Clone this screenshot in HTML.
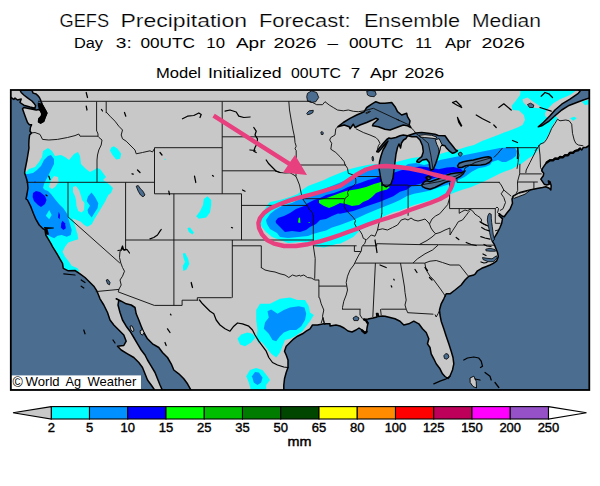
<!DOCTYPE html><html><head><meta charset="utf-8"><title>GEFS Precipitation Forecast</title>
<style>html,body{margin:0;padding:0;background:#fff}svg{display:block}text{font-family:"Liberation Sans",sans-serif;fill:#000}</style></head><body>
<svg width="600" height="486" viewBox="0 0 600 486">
<rect width="600" height="486" fill="#fff"/>
<defs><clipPath id="c"><rect x="10.5" y="90" width="579" height="300"/></clipPath></defs>
<g clip-path="url(#c)">
<rect x="10" y="89" width="581" height="302" fill="#c8c8c8"/>
<path d="M20 172 L26 172 L29 169 L35 167 L39 162 L42 157 L43 151 L48 148 L52 151 L55 156 L61 155 L65 157 L69 160 L74 154 L78 152 L80 156 L81 164 L86 169 L90 172 L94 170 L97 168 L100 169 L103 173 L106 177 L103 180 L106 182 L110 185 L113 188 L111 193 L108.3 195 L105 201.7 L100 210 L95 218.3 L91.7 224.2 L87.5 226.7 L84.2 225 L80.8 221.7 L76.7 220 L72.5 218.3 L74.2 223.3 L75.8 228.3 L77.5 234.2 L78.3 239.2 L73.3 240.8 L68.3 242.5 L65 246.7 L62.5 251.7 L65 256.7 L68.3 260.8 L71.7 265.8 L77.5 268.3 L79.2 270.8 L76.7 274 L60 274 L20 220Z" fill="#00ffff"/>
<path d="M111.2 147.5 L113.8 146.2 L117.5 148.8 L121.2 153.8 L120 158.8 L116.2 159.5 L112.5 155 L110 150.5Z" fill="#00ffff"/>
<path d="M203.8 199 L207.5 196.2 L211.2 200 L211.2 205 L210 212.5 L206.2 217.5 L198.8 218.8 L196.2 216.2 L200 211.2 L203 205Z" fill="#00ffff"/>
<path d="M187.5 228 L190 227.5 L193.8 232.5 L192.5 234.5 L188.8 232Z" fill="#00ffff"/>
<path d="M182.8 253.5 L185 253 L188 258.5 L189.3 264 L186.5 269.5 L183.3 271 L182.8 266 L185 262 L183.5 258Z" fill="#00ffff"/>
<path d="M164.5 158.8 L165.6 158.8 L165.6 159.8 L164.5 159.8Z" fill="#00ffff"/>
<path d="M256.2 310 L260 303.8 L270 303.8 L280 298.8 L290 297.5 L297.5 300 L305 300 L308.8 306.2 L310 312.5 L313.8 315 L310 321.2 L306.2 326.2 L302.5 331.2 L295 336.2 L290 338.8 L285 340 L282.5 346.2 L280 352.5 L276.2 357.5 L271.2 353.8 L266.2 347.5 L261.2 341.2 L258.8 343.8 L256.2 338.8 L257.5 330 L256.2 320Z" fill="#00ffff"/>
<path d="M237.5 338.8 L241.2 334.5 L247.5 332.5 L252.5 333.8 L255.5 337.5 L251.2 342.5 L245 346.2 L240 344.5Z" fill="#00ffff"/>
<path d="M246.2 376.2 L250 370 L256.2 368 L262.5 370 L267.5 376.2 L270 380 L266.2 385 L266.2 391 L251.2 391 L248.8 382.5Z" fill="#00ffff"/>
<path d="M262 214 L266 207 L270 202 L280 200 L290 197 L298 194 L302 190 L308 186 L316 183 L324 180 L330 177 L340 173 L350 169 L360 166.5 L370 164.4 L380 164 L396 162 L404 160 L412 158 L420 157 L430 155.5 L440 154 L450 151 L460 149 L466 147 L474 145 L482 141 L490 138 L498 135 L504 132.5 L511.2 130 L517.5 127.5 L522.5 125 L525 120 L523.8 115 L519 110.5 L512.5 110 L511.7 105.8 L515.8 100.8 L520 95 L520.8 89 L578.3 89 L570 95 L560 99.2 L553.3 103.3 L548.3 108.3 L545 113.3 L545.3 116.3 L547.5 117.7 L555 115 L557.5 118.3 L553.3 124.2 L550 131.7 L546.7 138.3 L541.7 144.2 L540 145 L538 150 L534 155 L529 158 L525 161 L521 164 L517 166 L512 169 L506 171 L500 173.5 L494 176.5 L488 179.5 L482 182.5 L476 185 L470 187.5 L463 189.5 L456 192 L449 194.8 L440 197.5 L430.3 200.3 L423.3 202.6 L414 205 L407 207.8 L400 210.5 L393.3 212.3 L380 218 L370 224 L360 230.3 L353.3 237 L348 239.7 L340 243.7 L337.5 243.8 L324 247.6 L316 246.4 L310 243 L300 242 L288 243 L280 240 L272 237 L266 232 L261 226 L259.5 220Z" fill="#00ffff"/>
<path d="M581.7 101.7 L588.3 99.7 L591 99.7 L591 104.2 L585 105Z" fill="#00ffff"/>
<path d="M570 118.3 L574.2 116.7 L576.7 118.3 L573.3 120.8Z" fill="#00ffff"/>
<path d="M54 176 L58 177 L58.6 182 L55 187 L52 189 L49 187 L50 183 L52 179Z" fill="#c8c8c8"/>
<path d="M73 187 L76 186 L79 190 L81 196 L82 200 L84.5 203 L84 210 L81.7 212.5 L78.3 211 L76.5 206 L76 200 L75 196 L73 192Z" fill="#c8c8c8"/>
<path d="M522.5 99.2 L527.5 97.5 L533.3 101.7 L538.3 105 L541.7 107.5 L538.3 108.3 L532.5 107.5 L526.7 105.8 L523.3 102.5Z" fill="#c8c8c8"/>
<path d="M20 174 L28 174 L33 173 L37 170 L41 166 L44 160 L48 156 L51 155 L54 159 L54 164 L52 168 L50 172 L48 176 L46 180 L44 184 L43 188 L45 190 L48 191 L51 194 L55 199.2 L59.2 204.2 L63.3 208.3 L66.7 213.3 L68.3 218.3 L70 224.2 L71.7 230 L70.8 235 L66.7 236.7 L61.7 235 L57.5 235.8 L54.2 238.3 L50.8 236.7 L47.5 235 L45.8 232.5 L40 232 L20 200Z" fill="#0090ff"/>
<path d="M91.5 192.5 L95 197 L98.3 203.3 L97.5 208.3 L94.2 213.3 L91.7 217.5 L88.3 213.3 L87.5 210 L90 205.8 L86.7 201 L88 196.5Z" fill="#0090ff"/>
<path d="M267.5 311.2 L271.2 309.5 L277.5 313.8 L283.8 310 L290 307.5 L298.8 306.2 L304.5 307.5 L306.2 313.8 L305 320 L301.2 326.2 L296.2 330 L290 330 L283.8 332.5 L280 336.2 L276.2 341.2 L272.5 340 L268.8 333.8 L263.8 328.8 L265 322.5 L268.8 317.5Z" fill="#0090ff"/>
<path d="M252 376.2 L255 372 L258.8 372.5 L262.5 377.5 L261.2 382.5 L257.5 385 L253.8 382.5Z" fill="#0090ff"/>
<path d="M266 220 L270 214 L275 210 L282 206 L292 203 L300 199 L308 197 L316 193 L324 189 L334 185 L344 181 L352 178 L360 174 L370 170 L380 166 L400 165 L404 167 L408 164 L416 163 L424 165 L432 163 L440 160 L450 158 L460 156 L470 154 L480 152 L490 150 L500 148 L508 147.6 L515 148 L517 151 L516 156 L512 159 L506 162 L502 162 L498 160 L492 162 L490 165 L485 167 L478.3 168.3 L471.7 171.7 L465 176.7 L458.3 180 L450 184 L446.7 185 L438.5 187.4 L430.3 190.5 L423.3 192 L414 193.8 L407 196 L400 200 L393.3 203 L380 208.3 L366.7 213.7 L353.3 220 L340 225 L332 227.5 L326 230.5 L320 232 L313 234 L308 236 L298 237 L288 238 L280 237 L277 233 L270 229 L267 224Z" fill="#0090ff"/>
<path d="M49.2 210 L51.7 215 L49.2 219.2 L45.8 215.8Z" fill="#00ffff"/>
<path d="M33 193 L36 191 L40 192 L45 196 L46.5 200 L45 204 L41 207 L38 205 L34 201 L32.6 197Z" fill="#0000ff"/>
<path d="M58.7 211.7 L60 215 L59.7 219.2 L58 217.5Z" fill="#0000ff"/>
<path d="M62.5 220.8 L65 223.3 L65.8 228.3 L63.3 230 L60.8 227.5 L61.3 223.3Z" fill="#0000ff"/>
<path d="M34.5 181.5 L35.5 181.5 L35.5 182.5 L34.5 182.5Z" fill="#0000ff"/>
<path d="M275.6 221 L278 218 L284 216 L290 213 L296 209 L304 206 L308 203 L314 200 L320 198 L326 195 L334 193 L342 190 L348 187 L354 185 L360 183 L368 180 L376 178 L381 175 L390 174 L396 172 L402 170 L408 169 L414 167.5 L420 166.5 L426 167 L432 168 L438.5 169.3 L446.7 167.6 L453.7 167 L460.7 168.8 L463 171 L460 172.4 L451.7 172.5 L443.3 175 L436.7 177.5 L428.3 180 L422 183.3 L417.5 184.5 L411.7 186 L406.7 189.7 L400 191.7 L393.3 196.3 L380 201.7 L366.7 206.3 L353.3 211 L346 212.5 L340 213.7 L338 213.5 L332 216 L326 219 L320 220 L316 224 L310 227 L306 230 L300 232 L292 231 L285 232 L280 227 L276 223Z" fill="#0000ff"/>
<path d="M319 200 L324 199 L332 196 L340 193 L346 191 L352 190 L358 189 L366 187 L374 184 L381 182 L381 186 L387 186 L390 187 L387 189.6 L381 191 L376 193 L372 197 L368 200 L363 202 L359 205 L352 206 L346 204 L340 203 L334 206 L329 208 L324 206 L319 203Z" fill="#00ff00"/>
<path d="M298.6 218 L300 217.6 L300.4 223 L298 222.4Z" fill="#00ff00"/>
<path d="M308.6 222 L309.6 222 L309.6 223 L308.6 223Z" fill="#00ff00"/>
<path d="M10 97.5 L10.9 97.5 L13.8 99.4 L15 98.1 L17.5 100 L21.2 99 L20 102.5 L23.8 105.2 L30 107 L35 108.2 L35.6 105.6 L34.4 103.8 L31.9 101 L27.5 97.8 L23.8 95 L21.2 92.5 L20 90.2 L31.9 90.2 L33.1 93.1 L36.2 94 L37.8 95.6 L39.4 97.5 L40.6 100 L41.2 101.9 L42.5 105 L45 110 L46.9 113.1 L45 117.5 L43.8 121.2 L40.6 123.1 L38.5 121.9 L38.8 118.8 L41.2 116.2 L41.9 113.8 L40.6 111.2 L39.4 109.4 L36.2 110 L30 108.8 L23.8 107.5 L22.5 108.8 L23.8 112.5 L25.6 117.5 L27.5 122.5 L29.4 124.8 L31.6 124.8 L30.4 127.5 L30 131.2 L31.5 132.9 L29.6 135 L29 140 L28.8 145 L29 148 L27 160 L25 170 L24.6 173 L26 177 L27.4 182 L28 188 L27 194 L26 199 L27.5 200 L30.8 206.7 L33.3 213.3 L35.8 219.2 L39.2 225 L42.5 228.3 L45 230 L45.8 235 L48.3 239.2 L50.8 243.3 L52.5 246.7 L56.7 253.3 L60 259.2 L62.5 263.3 L63.3 268.3 L68.3 270.8 L75 270.5 L80 273.8 L85 277.5 L88.8 281.2 L93.8 286.2 L97 291.2 L100 298.8 L103.8 305 L107.5 312.5 L110 320 L113.8 325 L118.8 330 L123.8 335 L126.2 341.2 L123.8 345.5 L117.5 346.2 L121.2 350 L127.5 353.8 L133.8 357.5 L138.8 362.5 L142.5 367.5 L145 373.8 L147.5 380 L151.2 385 L155 390.5 L10 390.5Z" fill="#4a6d90" stroke="#000" stroke-width="1.5" stroke-linejoin="round"/>
<path d="M162.5 390.5 L160 385 L157.5 378.8 L155 372.5 L151.2 366.2 L147.5 360 L145 355 L141.2 350 L137.5 343.8 L133.8 337.5 L130 331.2 L126.2 326.2 L122.5 320 L120 312.5 L118 305 L118.8 300 L116.2 298.8 L121.2 301.2 L126.2 303.8 L131.2 305 L135 307.5 L136.2 313.8 L138.8 320 L141.2 326.2 L143.8 332.5 L147.5 338.8 L152.5 343.8 L158.8 347.5 L162.5 352.5 L167.5 357.5 L171.2 363.8 L173.8 370 L178.8 373.8 L183.8 378.8 L187.5 383.8 L191.2 390.5Z" fill="#4a6d90" stroke="#000" stroke-width="1.5" stroke-linejoin="round"/>
<path d="M283.8 390.5 L283.8 385 L284.5 378.8 L286.2 372.5 L288 367.5 L288 360 L286.2 355 L284.5 351.2 L286.2 346.2 L290 342.5 L293.8 338.8 L297.5 336.2 L302.5 333.8 L306.2 331.2 L310 328.8 L312.5 325 L317.5 325 L323.8 323.8 L330 323.8 L330 326 L336 325 L340 326 L344 328 L348 331 L352 332 L356 330 L359 328 L362 330 L365 333 L366.5 332.5 L367 328 L368 323 L366 320 L364 319.3 L368 319 L373 318 L377 317 L376.5 313.5 L378 313.5 L378.5 316.5 L382 316 L385 316.2 L390 317.5 L395 318.8 L400 321.2 L403.8 325 L408.8 323.8 L413.8 321.2 L418.8 323.8 L422.5 328.8 L426.2 332.5 L428.8 338.8 L427.5 343.8 L430 347.5 L431.2 353.8 L433.8 358.8 L436.2 363.8 L440 368.8 L442.5 373.8 L445 376.5 L448 378.5 L450 376 L452.5 370 L453.8 363.8 L453 357.5 L451.2 351.2 L448.8 343.8 L446.2 336.2 L443.8 328.8 L441.2 321.2 L440 315 L439.5 310 L441.2 303.8 L443.8 298.8 L446.2 293.8 L450 293.8 L455 290 L461.2 285 L465 280 L468.8 276.2 L473.8 275 L475 274.2 L477.5 270.8 L481.7 268.3 L485.8 266.7 L490 265 L493.3 263.3 L496.7 260.8 L498.3 256.7 L497.5 252.5 L495.8 248.3 L494.2 244.2 L492.5 241.7 L493.3 239.2 L495 236.7 L497.5 232.5 L500 227.5 L501.7 223.3 L502.5 218.5 L501.5 218 L499 215.5 L499.5 213.8 L502 216 L504.2 216.7 L506.7 213.3 L510 209.2 L512.5 203.3 L512 199 L513.3 195.8 L520 192.5 L526.7 190.8 L533.3 189.2 L538.3 188.3 L542.5 187.5 L545.8 186.7 L549.2 188.3 L550.8 190 L551.2 185.8 L550 181.7 L548.3 180.8 L549.2 184.2 L546.7 185 L544.2 184.2 L542.5 181.7 L540.8 179.2 L543.3 175.8 L543.7 173.3 L541.7 170.8 L542.5 168.3 L544.2 165.8 L546.7 162.5 L550 160 L553 160 L555 158.3 L558 158.5 L560 156.7 L563 157 L565 155 L568 155 L570 152.5 L573 152.5 L575 150.8 L578 150 L580 148.3 L581.7 150 L583.3 147.5 L586 147.5 L590 145 L590 390.5Z" fill="#4a6d90" stroke="#000" stroke-width="1.5" stroke-linejoin="round"/>
<path d="M578.3 89.2 L590.8 89.2 L590.8 97.5 L583.3 100 L576.7 102.5 L568.3 105.8 L561.7 110 L555 115.8 L548.3 121.7 L541.7 125.8 L538.3 126.7 L543.3 122.5 L550 115.8 L555 110 L561.7 104.2 L570 99.2 L578.3 93.3 L580 91.3Z" fill="#4a6d90" stroke="#000" stroke-width="1.5" stroke-linejoin="round"/>
<path d="M338 126.7 L343.3 122.5 L350 118.3 L356.7 115 L364.2 111.7 L366.7 107.5 L371.7 104.2 L375.8 101.7 L380 103.3 L385 103.3 L391.7 102.5 L395 106.7 L397.5 111.7 L401.7 115 L406.7 113.3 L407.5 116.7 L410 120.8 L409.2 125 L410.8 127.5 L407.5 125.8 L403.3 125 L396.7 127.5 L390 130 L385 129.2 L378.3 126.7 L372.5 125.8 L373.3 123.7 L378.3 119.2 L375.8 118.3 L371.7 120.3 L366.7 122.5 L360 125 L355 127.5 L353.3 124.2 L350 128.7 L349.2 126.7 L344.2 125Z" fill="#4a6d90" stroke="#000" stroke-width="1.5" stroke-linejoin="round"/>
<path d="M407.5 135.8 L403.3 135 L400 135.8 L395.8 137.5 L391 138.5 L389 138 L386.7 139.5 L383.3 143.3 L379.2 148.3 L376.7 151.7 L378.5 152 L381.5 148.5 L385 144 L388 141 L385.5 146 L383 150 L381 156 L379.5 162 L379 168 L380 174 L381 180 L382.5 184.5 L386.5 187 L391 184 L393 178 L394 170 L395 162 L396 154 L397.5 147.5 L399 144 L400.5 148 L401.5 143 L403.5 140 L406 138.5Z" fill="#4a6d90" stroke="#000" stroke-width="1.5" stroke-linejoin="round"/>
<path d="M407.5 135.8 L415.8 133 L421.7 132.5 L428.3 133.3 L435 134.2 L438.3 135.5 L445 135.8 L449.2 141.7 L452.5 145.8 L455.8 150 L457.5 150.8 L455 152.5 L452.5 153.3 L449.2 150.8 L446.7 148.3 L445 145.8 L441.7 145 L440 146.7 L439.2 152.5 L437.5 158.3 L435.8 163.3 L433.3 169.2 L430.8 170 L430 168.3 L429.2 162.5 L426.7 159.2 L422.5 160 L419.2 162.5 L416.7 161.7 L417.5 160 L421.7 156.7 L423.3 151.7 L422.5 145.8 L420 140 L416.7 136.7 L412 136.8Z" fill="#4a6d90" stroke="#000" stroke-width="1.5" stroke-linejoin="round"/>
<path d="M421.7 185 L424.2 181.7 L426.7 180.8 L430 181.7 L435 180 L440 178.3 L445 175.8 L450.8 173.7 L455.8 173 L461.7 172.5 L465 170.8 L463.3 173.7 L460 176.7 L455 179.2 L450 180.8 L445 182.5 L440 185 L435 187.5 L430 189.2 L425.8 188.3 L422.5 186.7Z" fill="#4a6d90" stroke="#000" stroke-width="1.5" stroke-linejoin="round"/>
<path d="M457.5 165.8 L459.2 163.3 L463.3 161.7 L468.3 160.8 L473.3 160 L478.3 158.7 L483.3 157.5 L488.3 156.7 L490.8 157.5 L491.7 160 L489.2 162.5 L485.8 164.2 L480.8 165 L475.8 165.3 L470.8 165 L465.8 165.8 L461.7 167.5 L458.3 167.5Z" fill="#4a6d90" stroke="#000" stroke-width="1.5" stroke-linejoin="round"/>
<path d="M425.8 177.5 L428.3 176.3 L430.8 177.5 L430 179.2 L427.5 179.7Z" fill="#4a6d90" stroke="#000" stroke-width="1.5" stroke-linejoin="round"/>
<path d="M512.5 197 L518.3 193.5 L525 191.8 L530.5 190 L525 194.2 L518.3 196.7 L514.2 198.3Z" fill="#c8c8c8" stroke="#000" stroke-width="0.9" stroke-linejoin="round"/>
<path d="M419.2 135.3 L425 134.7 L431.7 135.3 L436.7 137 L435.8 138.7 L430 138 L424.2 137.5 L420 137Z" fill="#c8c8c8" stroke="#000" stroke-width="0.9" stroke-linejoin="round"/>
<path d="M435.3 139.7 L439.2 138.7 L442 144.7 L440.5 147 L439.5 152 L438.3 147.5 L436.7 144.2Z" fill="#c8c8c8" stroke="#000" stroke-width="0.9" stroke-linejoin="round"/>
<path d="M470 378 L473.8 376.2 L476.2 381.2 L476.5 388 L473 386.5 L470.2 382.5Z" fill="#c8c8c8" stroke="#000" stroke-width="0.9" stroke-linejoin="round"/>
<path d="M130 326.2 L132 325.8 L134 330 L133 331.8 L131 330Z" fill="#c8c8c8" stroke="#000" stroke-width="0.9" stroke-linejoin="round"/>
<path d="M140 330.8 L142.5 329.5 L144 332.5 L142.5 335.2 L140.5 333.8Z" fill="#c8c8c8" stroke="#000" stroke-width="0.9" stroke-linejoin="round"/>
<path d="M365.8 113 L370 111 L370.5 111.5 L366.7 113.5Z" fill="#c8c8c8" stroke="#000" stroke-width="0.9" stroke-linejoin="round"/>
<path d="M489.2 213.3 L487.8 216 L487.3 220 L488 224.2 L488.8 228.3 L489.6 232.5 L490.5 236.7 L492 241.5 L494.6 239.5 L493.3 235 L492.8 230.8 L492.3 226.7 L491.7 222.5 L491.3 218.3 L491.2 214.2Z" fill="#4a6d90" stroke="#000" stroke-width="0.8" stroke-linejoin="round"/>
<path d="M485.8 249.2 L490 248.3 L495 249.5 L495.5 251.2 L490 251.2 L486 250.8Z" fill="#4a6d90" stroke="#000" stroke-width="0.8" stroke-linejoin="round"/>
<path d="M482.5 257.5 L487 258.3 L492 258.8 L496.5 255.8 L497.3 257.8 L493.5 261.7 L488 261.7 L483 259.5Z" fill="#4a6d90" stroke="#000" stroke-width="0.8" stroke-linejoin="round"/>
<path d="M307.5 93.3 L311.7 90.8 L316.7 92.5 L318.7 97.5 L315.8 101.7 L311.7 102.5 L307.5 100.8 L306.7 96.7Z" fill="#4a6d90" stroke="#000" stroke-width="0.8" stroke-linejoin="round"/>
<path d="M366.7 91.3 L370 90.3 L375 91 L376.2 94.2 L374.2 96.7 L370 96.3 L367.5 95Z" fill="#4a6d90" stroke="#000" stroke-width="0.8" stroke-linejoin="round"/>
<path d="M306.7 113.3 L309.2 110.8 L313.3 110.3 L313 112.5 L310 114.2 L307.5 114.7Z" fill="#4a6d90" stroke="#000" stroke-width="0.8" stroke-linejoin="round"/>
<path d="M320.8 132.2 L322.2 131.5 L323.3 132.8 L323 134.5 L321.3 134.5Z" fill="#4a6d90" stroke="#000" stroke-width="0.8" stroke-linejoin="round"/>
<path d="M372 157 L373 156.3 L373.7 159.2 L373 161.2 L372.2 160Z" fill="#4a6d90" stroke="#000" stroke-width="0.8" stroke-linejoin="round"/>
<path d="M136.2 186.2 L138.2 185.5 L140.5 188.8 L143 191.2 L145 195 L143 196.8 L140.5 195 L138.2 191.2Z" fill="#4a6d90" stroke="#000" stroke-width="0.8" stroke-linejoin="round"/>
<path d="M443.8 355.8 L445.8 353.5 L448 354.2 L449 357 L447 359.2 L444.5 358.5Z" fill="#4a6d90" stroke="#000" stroke-width="0.8" stroke-linejoin="round"/>
<path d="M527.5 104.5 L530.5 103.2 L533.8 105 L533.2 107.5 L529.5 107.5Z" fill="#4a6d90" stroke="#000" stroke-width="0.8" stroke-linejoin="round"/>
<path d="M353 318 L356 316 L359 318 L358 320.6 L354 320.6Z" fill="#4a6d90" stroke="#000" stroke-width="0.8" stroke-linejoin="round"/>
<path d="M106.2 280 L108 279.5 L110 282.5 L109.5 284.8 L107.5 283.8Z" fill="#4a6d90" stroke="#000" stroke-width="0.8" stroke-linejoin="round"/>
<path d="M458.3 153.3 L460.8 152 L462.5 154.2 L460.3 156.3 L458.7 155.3Z" fill="#4a6d90" stroke="#000" stroke-width="0.8" stroke-linejoin="round"/>
<path d="M38 101.3 L300 101.3 L311 101.3 M96.6 101.5 L96.6 131.3 M106.2 101.5 L106.2 113.1 M26.4 182.3 L154.5 182.3 M68 182.3 L68 216.9 M68 216.9 L119.9 263.1 M125.6 182.3 L125.6 240 M154.5 147.7 L154.5 193.8 M154.5 147.7 L222.2 147.7 M154.5 193.8 L241.5 193.8 M222.2 101.5 L222.2 193.8 M173.9 193.8 L173.9 305.4 M125.6 240 L313.3 240 M241.5 193.8 L241.5 240 M222.2 136.8 L294.6 136.8 M222.2 170.8 L275.8 170.8 M241.5 205.4 L306.8 205.4 M232.3 240 L232.3 297.7 M232.3 245.8 L261.3 245.8 M261.3 245.8 L261.3 268.1 M231.7 297.7 L197.3 297.7 M197.3 297.7 L197.3 300.2 M198.2 300.2 L182.1 300.2 M182.1 300.2 L182.1 305.4 M182.1 305.4 L154.3 305.4 M154.3 305.4 L118.2 291.9 L119 289.4 L95.8 291.6 M125.6 240 L125.6 250.4 M295.7 165 L346.2 165 M302.2 198.7 L344.5 198.7 M313.3 215.8 L313.3 245.8 M313.3 245.8 L315.2 258.5 L314.7 278.8 M318.9 279.8 L318.9 297.8 M318.9 286.1 L346.7 286.1 M313.3 245.8 L356.6 245.8 M354.4 245.8 L354.4 251.5 L360.9 251.5 M355.1 263.1 L424.7 263.1 M375.4 263.1 L372.8 317.3 M400.5 263.1 L404.6 287.6 M381.2 309.2 L406.3 309.2 M342.2 309.2 L360.6 309.2 M407.7 312.7 L433.4 314.2 M351.8 176.5 L379.3 176.5 M381.9 185.8 L381.9 213.5 M381.9 185.1 L408.3 185.1 M408.3 185.8 L421.3 185.4 M408.1 185.8 L408.1 215.8 M449.6 182.5 L449.6 208.6 M449.6 208.6 L495.4 208.6 M457 182.3 L499.6 182.3 M457 182.3 L457 179.2 M362.8 245.8 L376.7 245.8 L376.7 243.7 L419.2 244.6 L438.4 244.7 L494.3 245.2 M505.9 147.7 L536.8 147.7 M519.9 163.8 L519.7 173.7 L517.5 181.7 L517.7 190.4 L516.1 193.8 M519.7 173.9 L541.7 173.9 M517.5 182 L537.8 182 M533.9 182 L533.9 189.8 M30 133.1 L35 132.5 L40 134.4 L42.5 139.4 L48.8 140 L57.5 139.4 L67.5 137.5 L75 135.6 L78.8 134 L80 136.2 L98 136.2 M97 131.3 L98 134 L98 136.2 L99 137.5 L102 140 L101.2 145 L98.8 150 L97.5 155 L97 160 L97 182.3 M106.2 112 L110 116.2 L115 121.2 L118.8 126.2 L122.5 130 L121.2 135 L122.5 138.8 L126.2 141.2 L130 145 L135 150 L136.2 153.8 L142.5 152.5 L150 150.8 L152.5 152 L154.5 148.5 M288.8 101.2 L289.5 110 L291.2 120 L293 130 L294.5 136.8 L295 142.5 L296.2 146.2 L295 148.8 L296.2 150.5 L296.2 165 L295.7 167.5 L296 172 L296 176.5 M275 170.8 L280 172.5 L285 173 L290 172.8 L294 175 L296 176.5 L297.5 180 L299.5 185 L300.5 190 L302 197 L304 201 L307 205 L309 209 L312 212 L313.3 216 M338 126.7 L335.8 128.7 L335 135 L330.8 137.5 L329.7 140 L331.7 143.3 L330.8 149.2 L335.8 152.5 L340 156.7 L344.2 161.7 L345 165 L346 166 L347.5 168.3 L348.3 173.3 L353.3 175 L355.8 179.2 L355.8 183.3 L353.3 185.8 L349.2 189.2 L347.5 192.5 L348.3 195.8 L345 198.3 L344.2 201.7 L344.2 206.7 L346.7 210.8 L350 214.2 L353.3 217.5 L355.5 220.5 L354.5 223.7 L356.7 227.7 L360 231 L362 234.3 L363.3 238.3 L366 239.7 L364.7 243.7 L362 246.3 L361.2 251.2 L358.8 255 L356.2 260 L353.8 265 L350 270 L347.5 276.2 L346.2 282.5 L347.5 290 L346.2 295 L343.8 301.2 L342.5 307.5 L342.5 309.3 M360 309.3 L360 315 L362.5 318.8 M366.5 239.8 L371.2 235 L375 236.2 L377.5 230 L382.5 228.8 L387.5 230 L392.5 227.5 L397.5 225 L401.2 220 L405 218.8 L408 220 L411 218 L414 220 L418 221 L422 220 L425 219 L428 222 L429.5 224 L432 219 L435.5 216 L439.7 213.8 L443 210 L447.7 204.6 L449.6 198 M377.5 230 L378.8 223.8 L381.2 217.5 L381.9 213 M429.5 224 L431 228 L433 231 L435.6 233.8 L432 237 L427 240.5 L419.2 244.6 M435.5 233.8 L440 232.5 L445 230 L450 228 L450 235 L452.5 230.8 L455.8 225.8 L458.3 221.7 L462.5 220 L465.8 215.8 L468.3 212.5 L470 210.5 M459.2 208.6 L459.2 213.3 L461.7 211.7 L465 210 L467.5 210.8 L470 209.2 L472.5 210.8 L475 214.2 L477.5 215.8 L480 217.5 L481.7 220 L480.8 222.5 L483.3 224.2 L487.5 225.8 M495.3 208.6 L495.3 223.3 L500.5 223.3 M495 230.8 L498.3 230 M495.3 208.6 L497 207 L498.5 208.5 L498.3 210 L497.5 212.5 L499 214 M438.2 245 L432.5 250 L425 253.8 L417.5 258.8 L413 263 M424.8 263 L426.2 270 L430 276.2 L433.8 280 L437.5 285 L441.2 290 L443.8 293.8 L445.8 297 M424.8 263 L430 261.2 L436.2 260.5 L442.5 262.5 L450 265 L459.5 265 L468 275.8 M404.5 287.2 L405 292.5 L406.2 300 L405 305 L406.2 309.2 L407.8 312.8 M435 314.5 L436.2 317 L438 313.8 L439.5 310.5 M380.5 309.2 L381.2 315 M300 276.2 L303.8 275 L307.5 277.5 L311.2 278 L315 280 L319 280 M261.2 267.5 L265 270 L270 271.2 L275 272 L280 273.8 L285 275 L288.8 277.5 L292.5 275 L296.2 276.2 L300 275.2 M319.5 297.5 L321.2 303.8 L323.8 310 L322.5 316.2 L323.8 322.5 L325 325 L323 317.5 L321.2 323 M126.2 248.8 L124.5 250.5 L122.5 249.5 L120 251.2 L119.5 257.5 L120.8 263 L122.5 267.5 L124.5 271.2 L122.5 276.2 L120 280 L121.2 285 L118.8 289.5 M498.8 182 L501.2 185 L503.8 190 L501.2 193.8 L503.8 197.5 L505.5 202.5 L504.5 205 L503 208.8 L500 210.5 M503.8 190 L511.2 196.2 M493.8 157.5 L497.5 153.8 L502.5 148 M517.5 147.5 L518.8 155 L518 162.5 L517 168.8 M537.5 147.5 L533.8 155 L530 162.5 L526.2 170 L525.8 173 M538.8 145 L540 155 L540.5 167.5 L542.5 171.2 M535 150.8 L539.2 145.8 L540 144.2 L544.2 142.5 L546.7 139.2 L549.2 134.2 L551.7 128.3 L555 123.3 L557.5 119.2 L560 120.8 L565.8 120 L569.2 120.8 L571.7 124.2 L572.5 133.3 L574.2 140 L575.8 143.3 L578.3 145 L583.3 145.8 M307.5 101.2 L312.5 102.5 L316.7 104.7 L322.5 104.7 L325 101.7 L329.2 105 L333.3 107.5 L337.5 110 L343.3 110.8 L348.3 110 L353.3 111.3 L358.3 111.7 L364.2 110.8 M364.2 110.8 L373.3 108.3 L400 120.8 L396.7 119.2 L409.2 125 L410.8 127.5 L414.2 130.8 L415.8 133.3 L422.5 138.3 L428.3 143.3 L430.8 155 L433 169.2 M355.8 128.7 L363.3 132.5 L370 135 L375.8 137.5 L378.3 140 L380 143.3 L378.3 145.8 L377 151.3 M430.8 170 L429.7 175 L427.5 178.3 L426 181.5 M423 184.5 L440 181.5 L455 176.5 L463.5 172.5 L465 168 L475 162.5 L490.5 158" fill="none" stroke="#111" stroke-width="0.95" stroke-linejoin="round"/>
<path d="M118 250.5 L121 250 L122.5 246 L123.5 249.5 L127 249.5 L129.5 253 M517.6 147.8 L517.7 153 L517.4 158.5 M517.9 148 L518 154 M463.8 360 L467.5 358 L473.8 357 L478.8 358 L481.2 361.2 L482.5 366.2 L480.5 367.5 M199.5 300 L202.5 303.8 L210 311.2 L213.8 313.8 L216.2 320 L220 325 L225 328.8 L230 331.2 L233.8 326.2 L237.5 323 L242.5 323.8 L248.8 326.2 L252.5 330 L255 335 L258.8 341.2 L262.5 346.2 L266.2 351.2 L268.8 357.5 L272.5 362.5 L277.5 365 L283.8 367 L288 367.5 M480 221.7 L484 224 L487.5 225.8 M481.7 227.5 L485 229.5 L489.2 230.8 M480.8 236.7 L485 238 L490 239.2 M484 244.5 L487 246 L491 246.5 M481 262 L484 263 L487 262.5 M483 254 L486 255.5 M182.5 118.8 L187.5 116.2 L193.8 115.5 L198.8 113 L201.2 114.5 L200 117.5 M225 111.2 L230 110 L236.2 112 L238.8 116.2 L243.8 117.5 L250 117 M253.8 127.5 L256.2 131.2 L255 135 L257.5 138.8 L257 143.8 L255 147.5 L253.8 151.2 L256.2 152.5 M250 150 L255 150.5 M266.2 160 L268.8 163.8 L272.5 167.5 L276.2 171.2 L280 172.5 M194.5 176.2 L195.2 179.5 L195.8 182.5 M168.8 191.2 L169.5 194.5 M242.5 190 L245 191.2 M160 152.5 L162 155 M212.5 175.5 L213.5 176.2 M86.2 92.5 L87.5 97.5 M86.2 106.2 L87 110 M101.5 109.5 L102.5 111 M124.5 112.5 L125.8 116.2 M137.5 170 L140 172.5 M132 173.8 L133.2 174.2 M48.8 176.2 L50 179.5 M46 195 L47 195.8 M150 238.8 L153.8 237.5 L157.5 235 L160 231.2 L161.2 229.5 M191.2 282.5 L192.5 287.5 M231.5 227.5 L232.5 227.8 M170.5 314.2 L171 315 M375 240 L376 246.2 L377 252.5 M380 265 L386.2 267.5 M393.8 279.2 L394.2 280 M391.2 285.8 L391.8 287 M415 269.5 L417 272.5 M425 267.5 L427.5 270.5 M429.5 277.5 L432 280 M456.2 237.5 L458.8 239.5 M466.2 242.5 L471.2 244.5 L476.2 245.5 M452.5 102.5 L456.2 101.2 L461.2 106.2 M498.8 107.5 L503.8 103.8 L511.2 110 M541.2 96.2 L545 92.5 L548.8 93.8 L552.5 97.5 M540 107.5 L551.2 111.2 M457.5 117.5 L458.8 122.5 L461.2 126.2 M476.2 115 L482.5 118.8 L490 122.5 M493.8 125 L496.2 127.5 M512.5 140.5 L517.5 142.5 M452.5 102.5 L456.7 105 L461.7 107.5 M457.5 117.5 L460 122.5 L461.7 125.8 M83.8 330 L85 333.8 M113 340 L115 343 M167.5 328.8 L170 332.5 M165 342.5 L166.2 345.5 M191.2 282.5 L192 286.2 M63.8 273.8 L75 275 M81.2 280 L85 282.5 M81.2 286.2 L83.8 288 M433.8 383.8 L440 381.2 L446.2 378.8 L450 376.2 M485 372.5 L490 376.2 L491.2 380 M495 382.5 L498.8 387.5 M475 379 L480 380" fill="none" stroke="#000" stroke-width="1.25" stroke-linejoin="round" stroke-linecap="round"/>
<path d="M546.7 162.5 L550 160.3 L553 160.3 L555 158.6 L558 158.8 L560 157 L563 157.3 L565 155.3 L568 155.3 L570 152.8 L573 152.8 L575 151 L578 150.3 L580 148.6 M362 330.5 L365 333 L366.5 331.5 M364 319.5 L366 320.5 L367.5 323" fill="none" stroke="#000" stroke-width="2.3" stroke-linejoin="round" stroke-linecap="round"/>
<path d="M37.8 102.5 L42.5 103.8 L46.2 110 L47.5 113.1 L45.6 118.1 L44 121.9 L40.6 123.8 L38.1 122.2 L38.5 118.8 L41.5 115.6 L41.2 113.1 L38.8 109.4 L37.8 105.6Z" fill="#000"/>
<path d="M43.8 227 L53.8 227.5 L53.8 228.5 L47.5 229 L49 234.5 L46.5 235 L45 230Z" fill="#000"/>
<path d="M258.4 223.0 L260.0 218.0 L264.0 213.0 L270.0 208.4 L280.0 204.0 L290.0 200.4 L300.0 197.4 L310.0 194.8 L320.0 192.0 L330.0 189.0 L340.0 186.0 L348.0 180.5 L356.0 175.0 L366.0 169.5 L376.0 166.6 L386.0 166.0 L398.0 167.0 L410.0 168.5 L422.0 171.0 L434.0 174.5 L446.0 177.5 L453.7 179.3 L452.2 185.0 L450.2 189.5 L447.0 195.0 L440.0 199.0 L430.0 203.0 L420.0 206.5 L410.0 210.0 L400.0 214.0 L388.0 218.0 L378.0 221.0 L368.0 224.5 L358.0 228.5 L348.0 232.0 L340.0 235.0 L330.0 238.4 L320.0 241.4 L308.0 244.2 L296.0 246.0 L284.0 246.0 L274.0 243.6 L267.0 240.0 L262.0 234.4 L259.0 228.0Z" fill="none" stroke="#e8407f" stroke-width="4.4" stroke-linejoin="round"/>
<path d="M214.8 113.7 L290.2 161.7 L295 155 L307 175 L283 172.4 L287.8 165.5 L212.4 117.5Z" fill="#e8407f"/>
</g>
<rect x="11.4" y="375.4" width="129.6" height="13.8" fill="#fff"/>
<text x="12.6" y="387.4" font-size="14">©</text>
<text x="25.6" y="386.3" font-size="12.2" textLength="34.0" lengthAdjust="spacingAndGlyphs">World</text>
<text x="65.6" y="386.3" font-size="12.2" textLength="15.6" lengthAdjust="spacingAndGlyphs">Ag</text>
<text x="87.5" y="386.3" font-size="12.2" textLength="48.8" lengthAdjust="spacingAndGlyphs">Weather</text>
<rect x="10.8" y="90" width="578.5" height="300" fill="none" stroke="#000" stroke-width="1.8"/>
<text x="59.47" y="27.0" font-size="17.5" textLength="49.57" lengthAdjust="spacingAndGlyphs" stroke="#fff" stroke-width="0.2">GEFS</text>
<text x="120.47" y="27.0" font-size="17.5" textLength="126.59" lengthAdjust="spacingAndGlyphs" stroke="#fff" stroke-width="0.2">Precipitation</text>
<text x="258.90" y="27.0" font-size="17.5" textLength="91.67" lengthAdjust="spacingAndGlyphs" stroke="#fff" stroke-width="0.2">Forecast:</text>
<text x="363.94" y="27.0" font-size="17.5" textLength="96.11" lengthAdjust="spacingAndGlyphs" stroke="#fff" stroke-width="0.2">Ensemble</text>
<text x="471.90" y="27.0" font-size="17.5" textLength="69.14" lengthAdjust="spacingAndGlyphs" stroke="#fff" stroke-width="0.2">Median</text>
<text x="73.93" y="48.0" font-size="14.7" textLength="29.10" lengthAdjust="spacingAndGlyphs">Day</text>
<text x="115.80" y="48.0" font-size="14.7" textLength="16.00" lengthAdjust="spacingAndGlyphs">3:</text>
<text x="140.46" y="48.0" font-size="14.7" textLength="54.59" lengthAdjust="spacingAndGlyphs">00UTC</text>
<text x="206.38" y="48.0" font-size="14.7" textLength="18.62" lengthAdjust="spacingAndGlyphs">10</text>
<text x="235.98" y="48.0" font-size="14.7" textLength="29.54" lengthAdjust="spacingAndGlyphs">Apr</text>
<text x="273.44" y="48.0" font-size="14.7" textLength="43.09" lengthAdjust="spacingAndGlyphs">2026</text>
<text x="327.48" y="48.0" font-size="14.7" textLength="10.54" lengthAdjust="spacingAndGlyphs">–</text>
<text x="348.96" y="48.0" font-size="14.7" textLength="54.57" lengthAdjust="spacingAndGlyphs">00UTC</text>
<text x="415.39" y="48.0" font-size="14.7" textLength="16.69" lengthAdjust="spacingAndGlyphs">11</text>
<text x="445.00" y="48.0" font-size="14.7" textLength="26.00" lengthAdjust="spacingAndGlyphs">Apr</text>
<text x="481.46" y="48.0" font-size="14.7" textLength="43.56" lengthAdjust="spacingAndGlyphs">2026</text>
<text x="155.95" y="77.5" font-size="14.0" textLength="45.10" lengthAdjust="spacingAndGlyphs">Model</text>
<text x="207.91" y="77.5" font-size="14.0" textLength="73.66" lengthAdjust="spacingAndGlyphs">Initialized</text>
<text x="290.97" y="77.5" font-size="14.0" textLength="50.04" lengthAdjust="spacingAndGlyphs">00UTC</text>
<text x="350.82" y="77.5" font-size="14.0" textLength="9.48" lengthAdjust="spacingAndGlyphs">7</text>
<text x="370.00" y="77.5" font-size="14.0" textLength="27.52" lengthAdjust="spacingAndGlyphs">Apr</text>
<text x="404.45" y="77.5" font-size="14.0" textLength="39.66" lengthAdjust="spacingAndGlyphs">2026</text>
<rect x="51.25" y="406.6" width="38.25" height="12.4" fill="#00ffff" stroke="#000" stroke-width="1.1"/>
<rect x="89.50" y="406.6" width="38.25" height="12.4" fill="#0090ff" stroke="#000" stroke-width="1.1"/>
<rect x="127.75" y="406.6" width="38.25" height="12.4" fill="#0000ff" stroke="#000" stroke-width="1.1"/>
<rect x="166.00" y="406.6" width="38.25" height="12.4" fill="#00ff00" stroke="#000" stroke-width="1.1"/>
<rect x="204.25" y="406.6" width="38.25" height="12.4" fill="#00be00" stroke="#000" stroke-width="1.1"/>
<rect x="242.50" y="406.6" width="38.25" height="12.4" fill="#007d00" stroke="#000" stroke-width="1.1"/>
<rect x="280.75" y="406.6" width="38.25" height="12.4" fill="#004600" stroke="#000" stroke-width="1.1"/>
<rect x="319.00" y="406.6" width="38.25" height="12.4" fill="#ffff00" stroke="#000" stroke-width="1.1"/>
<rect x="357.25" y="406.6" width="38.25" height="12.4" fill="#ff8c00" stroke="#000" stroke-width="1.1"/>
<rect x="395.50" y="406.6" width="38.25" height="12.4" fill="#ff0000" stroke="#000" stroke-width="1.1"/>
<rect x="433.75" y="406.6" width="38.25" height="12.4" fill="#be005a" stroke="#000" stroke-width="1.1"/>
<rect x="472.00" y="406.6" width="38.25" height="12.4" fill="#ff00ff" stroke="#000" stroke-width="1.1"/>
<rect x="510.25" y="406.6" width="38.25" height="12.4" fill="#9650c8" stroke="#000" stroke-width="1.1"/>
<path d="M51.25 406.6 L13 412.8 L51.25 419.0 Z" fill="#c8c8c8" stroke="#000" stroke-width="1.1" stroke-linejoin="miter"/>
<path d="M548.50 406.6 L586.5 412.8 L548.50 419.0 Z" fill="#fff" stroke="#000" stroke-width="1.1"/>
<text x="51.25" y="431.8" font-size="13" stroke="#000" stroke-width="0.4" text-anchor="middle">2</text>
<text x="89.50" y="431.8" font-size="13" stroke="#000" stroke-width="0.4" text-anchor="middle">5</text>
<text x="127.75" y="431.8" font-size="13" stroke="#000" stroke-width="0.4" text-anchor="middle">10</text>
<text x="166.00" y="431.8" font-size="13" stroke="#000" stroke-width="0.4" text-anchor="middle">15</text>
<text x="204.25" y="431.8" font-size="13" stroke="#000" stroke-width="0.4" text-anchor="middle">25</text>
<text x="242.50" y="431.8" font-size="13" stroke="#000" stroke-width="0.4" text-anchor="middle">35</text>
<text x="280.75" y="431.8" font-size="13" stroke="#000" stroke-width="0.4" text-anchor="middle">50</text>
<text x="319.00" y="431.8" font-size="13" stroke="#000" stroke-width="0.4" text-anchor="middle">65</text>
<text x="357.25" y="431.8" font-size="13" stroke="#000" stroke-width="0.4" text-anchor="middle">80</text>
<text x="395.50" y="431.8" font-size="13" stroke="#000" stroke-width="0.4" text-anchor="middle">100</text>
<text x="433.75" y="431.8" font-size="13" stroke="#000" stroke-width="0.4" text-anchor="middle">125</text>
<text x="472.00" y="431.8" font-size="13" stroke="#000" stroke-width="0.4" text-anchor="middle">150</text>
<text x="510.25" y="431.8" font-size="13" stroke="#000" stroke-width="0.4" text-anchor="middle">200</text>
<text x="548.50" y="431.8" font-size="13" stroke="#000" stroke-width="0.4" text-anchor="middle">250</text>
<text x="299.5" y="445.8" font-size="13" stroke="#000" stroke-width="0.4" text-anchor="middle" textLength="24" lengthAdjust="spacingAndGlyphs">mm</text>
</svg></body></html>
